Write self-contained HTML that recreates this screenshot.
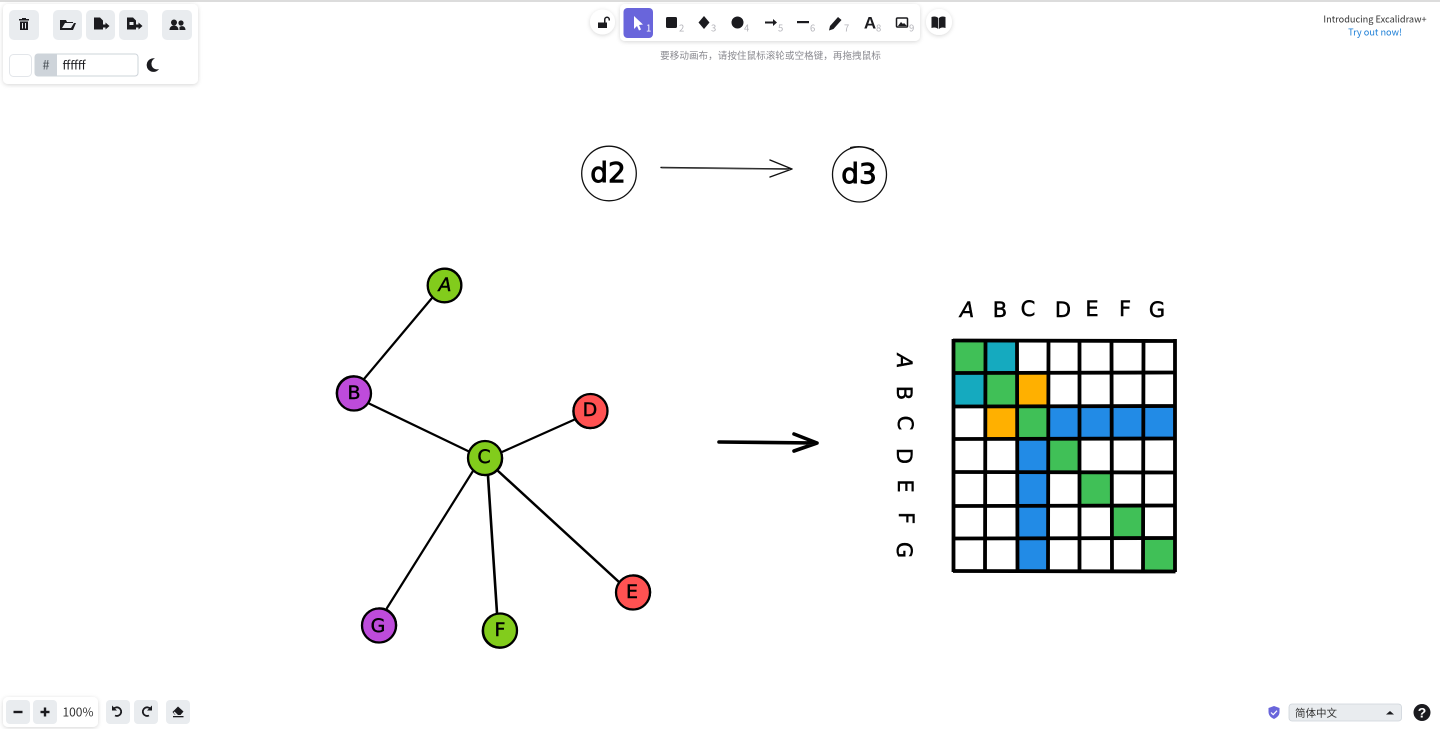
<!DOCTYPE html>
<html lang="zh-CN">
<head>
<meta charset="utf-8">
<title>Excalidraw</title>
<style>
html,body{margin:0;padding:0;width:1440px;height:729px;overflow:hidden;background:#fff}
body{position:relative;font-family:"Liberation Sans","Noto Sans CJK SC",sans-serif}
svg{position:absolute;left:0;top:0}
.ui{font-family:"Noto Sans CJK SC","Liberation Sans",sans-serif}
.hand{font-family:"DejaVu Sans","Liberation Sans",sans-serif;fill:#000;stroke:#000;stroke-width:.45;text-anchor:middle;dominant-baseline:central}
</style>
</head>
<body>
<svg width="1440" height="729" viewBox="0 0 1440 729" xmlns="http://www.w3.org/2000/svg">
<defs>
<filter id="s" x="-20%" y="-30%" width="140%" height="160%"><feDropShadow dx="0" dy="1" stdDeviation="2" flood-color="#000" flood-opacity=".16"/></filter>
</defs>
<rect width="1440" height="729" fill="#fff"/>
<rect width="1440" height="2" fill="#dcdcdc"/>

<!-- top diagram -->
<g fill="none" stroke="#111">
<circle cx="609" cy="173.500" r="27.300" stroke-width="1.300"/>
<ellipse cx="859.500" cy="174.500" rx="27" ry="27.500" stroke-width="1.300"/>
<path d="M850 147.500 Q862 144.500 874 150" stroke-width="1"/>
<path d="M661 167.500 L792 169 M770 160 L792 169 L770 177" stroke-width="1.400" stroke-linecap="round" stroke-linejoin="round"/>
<path d="M662 168 L790 169.500" stroke-width="1" stroke="#555"/>
</g>
<text class="hand" x="608" y="172.500" font-size="28" style="stroke-width:.9">d2</text>
<text class="hand" x="859" y="173.500" font-size="28" style="stroke-width:.9">d3</text>

<!-- graph edges -->
<g stroke="#000" stroke-width="2.200" stroke-linecap="round" fill="none">
<path d="M432 298 L364 379"/>
<path d="M368 403 L470 452"/>
<path d="M502 452 L578 418"/>
<path d="M473 471 L387 608"/>
<path d="M488 476 L497 613" stroke-width="2.600"/>
<path d="M497 470 L619 582" stroke-width="2.500"/>
</g>
<!-- graph nodes -->
<g stroke="#000" stroke-width="2.300">
<circle cx="444.500" cy="285.500" r="16.800" fill="#82cc1c"/>
<circle cx="354" cy="393.500" r="17" fill="#be4bdb"/>
<circle cx="485" cy="458" r="17" fill="#82cc1c"/>
<circle cx="590.500" cy="411" r="17" fill="#ff5252"/>
<circle cx="633" cy="592.500" r="17" fill="#ff5252"/>
<circle cx="500" cy="630.500" r="17" fill="#82cc1c"/>
<circle cx="379" cy="625.500" r="17" fill="#be4bdb"/>
</g>
<g stroke="#000" stroke-width=".9" fill="none">
<circle cx="445" cy="285" r="17"/>
<circle cx="353.500" cy="393" r="17.400"/>
<circle cx="485.500" cy="458.500" r="17.300"/>
<circle cx="590" cy="411.500" r="17.300"/>
<circle cx="633.500" cy="592" r="17.300"/>
<circle cx="499.500" cy="631" r="17.400"/>
<circle cx="379.500" cy="625" r="17.300"/>
</g>
<g font-size="19">
<text class="hand" x="445" y="285" font-style="italic">A</text>
<text class="hand" x="354" y="393">B</text>
<text class="hand" x="484" y="457">C</text>
<text class="hand" x="590" y="410">D</text>
<text class="hand" x="632" y="592">E</text>
<text class="hand" x="500" y="630">F</text>
<text class="hand" x="378" y="626">G</text>
</g>

<!-- big arrow -->
<path d="M719 442 L817 443 M794 434 L817 443 L794 451" fill="none" stroke="#000" stroke-width="3.600" stroke-linecap="round" stroke-linejoin="round"/>

<!-- matrix headers -->
<g font-size="21">
<text class="hand" x="967" y="310" font-style="italic">A</text>
<text class="hand" x="1000" y="310">B</text>
<text class="hand" x="1028" y="309">C</text>
<text class="hand" x="1063" y="310">D</text>
<text class="hand" x="1092" y="309">E</text>
<text class="hand" x="1125" y="309">F</text>
<text class="hand" x="1157" y="310">G</text>
<text class="hand" transform="translate(904 361) rotate(90)" font-style="italic">A</text>
<text class="hand" transform="translate(904 393) rotate(90)">B</text>
<text class="hand" transform="translate(905 423) rotate(90)">C</text>
<text class="hand" transform="translate(904 456) rotate(90)">D</text>
<text class="hand" transform="translate(905 486) rotate(90)">E</text>
<text class="hand" transform="translate(906 518) rotate(90)">F</text>
<text class="hand" transform="translate(904 550) rotate(90)">G</text>
</g>

<!-- matrix cells -->
<g fill="#40c057">
<rect x="953" y="341" width="32" height="32"/>
<rect x="985" y="373" width="32" height="34"/>
<rect x="1017" y="407" width="31" height="32"/>
<rect x="1048" y="439" width="31" height="33"/>
<rect x="1079" y="472" width="32" height="34"/>
<rect x="1111" y="506" width="32" height="32"/>
<rect x="1143" y="538" width="32" height="34"/>
</g>
<g fill="#15aabf">
<rect x="985" y="341" width="32" height="32"/>
<rect x="953" y="373" width="32" height="34"/>
</g>
<g fill="#ffb000">
<rect x="1017" y="373" width="31" height="34"/>
<rect x="985" y="407" width="32" height="32"/>
</g>
<g fill="#228be6">
<rect x="1048" y="407" width="31" height="32"/>
<rect x="1079" y="407" width="32" height="32"/>
<rect x="1111" y="407" width="32" height="32"/>
<rect x="1143" y="407" width="32" height="32"/>
<rect x="1017" y="439" width="31" height="33"/>
<rect x="1017" y="472" width="31" height="34"/>
<rect x="1017" y="506" width="31" height="32"/>
<rect x="1017" y="538" width="31" height="34"/>
</g>
<!-- matrix lines -->
<g stroke="#000" stroke-width="3.800" stroke-linecap="butt" fill="none">
<path d="M953 340.500 L1175.500 341 M953 373 L1175 372.500 M953 406.500 L1175 406 M953 439 L1175 438.500 M953 472 L1175 472.500 M953 506 L1175 505.500 M953 538.500 L1175 538 M953 571 L1175.500 571.500"/>
<path d="M953.500 339 L953.500 572 M985.500 341 L985 572 M1017 341 L1017.500 572 M1048.500 341 L1048 572 M1079.500 341 L1079.500 572 M1111.500 341 L1112 572 M1143.500 341 L1143 572 M1175 339 L1175 572"/>
</g>

<!-- top-left panel -->
<rect x="3" y="4" width="195" height="80" rx="5" fill="#fff" filter="url(#s)"/>
<g fill="#e9ecef">
<rect x="9" y="10" width="30" height="30" rx="5"/>
<rect x="53" y="10" width="29" height="30" rx="5"/>
<rect x="86" y="10" width="29" height="30" rx="5"/>
<rect x="119" y="10" width="29" height="30" rx="5"/>
<rect x="162" y="10" width="30" height="30" rx="5"/>
</g>
<g fill="#1b1b1f">
<path d="M19 19h10v1.500h-10z M22 18h4v1h-4z"/>
<path d="M20 21.500h8v8.500h-8z"/>
<path d="M61 20h5l1 2h6v1h-8l-3 5h9l3-5h2l-3 7h-13v-10z"/>
<path d="M94 17.500h6l3 3v4h2.500v-2l4 3.500-4 3.500v-2h-2.500v2h-9z"/>
<path d="M127 17.500h6l3 3v4h2.500v-2l4 3.500-4 3.500v-2h-2.500v2h-9z"/>
<circle cx="174" cy="22.500" r="3"/><circle cx="181" cy="23" r="2.600"/>
<path d="M169.500 30c0-6 9-6 9 0z M179.500 27c3-2 6-.5 6 3h-6z"/>
<path d="M155 58.500a6.800 6.800 0 1 0 4 10.500a5.300 5.300 0 0 1-4-10.500z"/>
</g>
<path d="M22.500 23v5.500M25.500 23v5.500" stroke="#e9ecef" stroke-width="1"/>
<rect x="129.500" y="22" width="4" height="3" fill="#e9ecef"/>
<rect x="9.500" y="54.500" width="22" height="22" rx="4" fill="#fff" stroke="#e3e6ea"/>
<rect x="35" y="54" width="103" height="22" rx="3" fill="#fff" stroke="#ced4da"/>
<path d="M38 54h19v22h-19a3 3 0 0 1-3-3v-16a3 3 0 0 1 3-3z" fill="#ced4da"/>
<text class="ui" x="46" y="69.500" font-size="13" fill="#495057" text-anchor="middle">#</text>
<text class="ui" x="62.500" y="69.500" font-size="12" fill="#1b1b1f">ffffff</text>

<!-- top toolbar -->
<circle cx="602.500" cy="22" r="12.500" fill="#fff" filter="url(#s)"/>
<circle cx="939" cy="22" r="13" fill="#fff" filter="url(#s)"/>
<rect x="620" y="4" width="300" height="37" rx="5" fill="#fff" filter="url(#s)"/>
<rect x="623.500" y="8" width="29.500" height="30" rx="4" fill="#6965db"/>
<path d="M634 16l9 8.500-4 .5 2 4.500-2 1-2-4.500-3 3z" fill="#fff"/>
<g fill="#1b1b1f">
<path d="M598 22.500h9v5.500h-9z M604 22.500v-3a3 3 0 0 1 6 0v1h-1.500v-1a1.500 1.500 0 0 0-3 0v3z"/>
<rect x="666" y="17" width="11" height="11" rx="1.500"/>
<path d="M704 16l5.500 6.500-5.500 6.500-5.500-6.500z"/>
<circle cx="737.500" cy="22.500" r="6"/>
<path d="M765 21.500h8v-2.500l4 3.500-4 3.500v-2.500h-8z"/>
<rect x="797" y="21" width="12" height="2.200"/>
<path d="M830 26l8-9 3.500 3-8 9-4.500 1.500z"/>
<text x="870" y="28.500" font-size="17" font-weight="700" text-anchor="middle" style="font-family:'Liberation Sans',sans-serif">A</text>
<path d="M931.500 17c3-1 5-.5 6.800 1v11c-1.800-1.500-3.800-2-6.800-1z M945.500 17c-3-1-5-.5-6.500 1v11c1.500-1.500 3.500-2 6.500-1z"/>
</g>
<rect x="896.500" y="18" width="11" height="9" rx="1" fill="none" stroke="#1b1b1f" stroke-width="1.500"/>
<path d="M898 26l3-4 2 2 1-1 3 3z" fill="#1b1b1f"/>
<g class="ui" font-size="9.500" fill="#b3b3b9">
<text x="646" y="31.500" fill="#fff">1</text>
<text x="679" y="31.500">2</text>
<text x="711" y="31.500">3</text>
<text x="744" y="31.500">4</text>
<text x="778" y="31.500">5</text>
<text x="810" y="31.500">6</text>
<text x="844" y="31.500">7</text>
<text x="876" y="31.500">8</text>
<text x="909" y="31.500">9</text>
</g>
<text class="ui" x="770.500" y="59" font-size="9.600" fill="#8a8a90" text-anchor="middle">要移动画布，请按住鼠标滚轮或空格键，再拖拽鼠标</text>

<!-- top right -->
<text class="ui" x="1375" y="22.500" font-size="9.200" fill="#333" text-anchor="middle">Introducing Excalidraw+</text>
<text class="ui" x="1375" y="35.500" font-size="9.200" fill="#1c7ed6" text-anchor="middle">Try out now!</text>

<!-- bottom left -->
<rect x="3" y="697" width="95" height="30" rx="5" fill="#fff" filter="url(#s)"/>
<g fill="#e9ecef">
<rect x="6" y="700" width="24" height="24" rx="4"/>
<rect x="33" y="700" width="24" height="24" rx="4"/>
<rect x="106" y="700" width="24" height="24" rx="4"/>
<rect x="134" y="700" width="24" height="24" rx="4"/>
<rect x="166" y="700" width="24" height="24" rx="4"/>
</g>
<g fill="#1b1b1f">
<rect x="13.500" y="710.800" width="9" height="2.400"/>
<rect x="40.500" y="710.800" width="9" height="2.400"/>
<rect x="43.800" y="707.500" width="2.400" height="9"/>
<path d="M178 706.500l5.500 5-3 3.500h-5.500l-2.500-3z"/>
<rect x="173" y="716" width="10.500" height="1.300"/>
</g>
<path d="M174.500 711.500l3.500 3.500h-2.500l-1.800-2.200z" fill="#e9ecef"/>
<path d="M113.500 709a4.300 4.300 0 1 1 1.500 6.500" fill="none" stroke="#1b1b1f" stroke-width="1.800"/>
<path d="M112 705.500v5h5z" fill="#1b1b1f"/>
<path d="M150.500 709a4.300 4.300 0 1 0-1.500 6.500" fill="none" stroke="#1b1b1f" stroke-width="1.800"/>
<path d="M152 705.500v5h-5z" fill="#1b1b1f"/>
<text class="ui" x="78" y="716.500" font-size="12" fill="#333" text-anchor="middle">100%</text>

<!-- bottom right -->
<path d="M1274 706l5.500 2v4c0 3.500-2.500 5.500-5.500 7-3-1.500-5.500-3.500-5.500-7v-4z" fill="#6965db"/>
<path d="M1271 712.500l2.200 2.200 3.800-4" fill="none" stroke="#fff" stroke-width="1.200"/>
<rect x="1289" y="704" width="112.500" height="17" rx="3" fill="#e9ecef" stroke="#ced4da" stroke-width=".8"/>
<text class="ui" x="1295" y="716.500" font-size="10.500" fill="#333">简体中文</text>
<path d="M1386 714.500l4-3.500 4 3.500z" fill="#1b1b1f"/>
<circle cx="1422" cy="712.500" r="8.500" fill="#1b1b1f"/>
<text x="1422" y="717.500" font-size="14" font-weight="700" fill="#fff" text-anchor="middle" style="font-family:'Liberation Sans',sans-serif">?</text>
</svg>
</body>
</html>
